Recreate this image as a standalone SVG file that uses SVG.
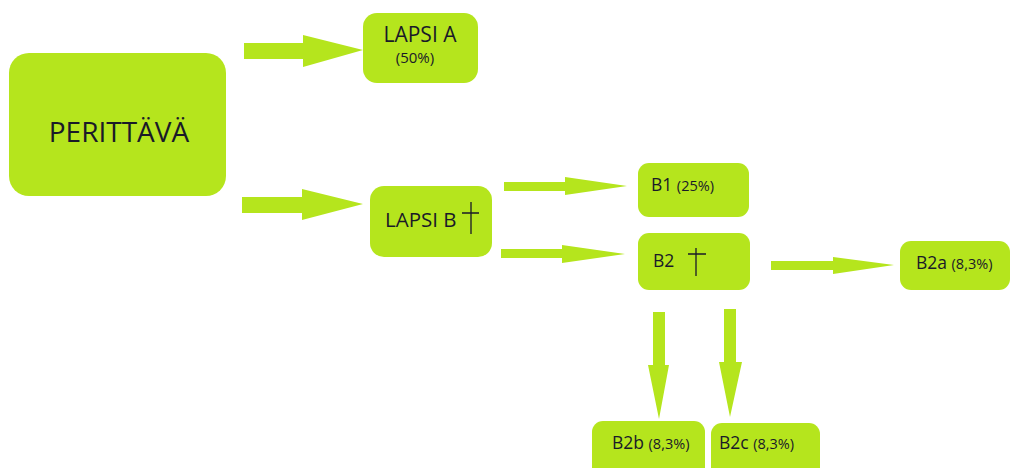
<svg xmlns="http://www.w3.org/2000/svg" width="1010" height="468" viewBox="0 0 1010 468">
<style>
.box{fill:#b5e51d}
.arr{fill:#b5e51d}
text{font-family:"Open Sans","Liberation Sans",sans-serif;fill:#1a1a28}
.lbl{font-size:17.5px}
.pct{font-size:14.5px}
.cross{stroke:#1a1a28;stroke-width:1.3;fill:none}
</style>
<rect width="1010" height="468" fill="#ffffff"/>
<g id="connectors">
<polygon class="arr" points="244,43 303,43 303,35 363,50 303,67 303,59 244,59"/>
<polygon class="arr" points="242,197 302,197 302,189 363,204 302,220 302,213 242,213"/>
<polygon class="arr" points="504,182 565,182 565,177 627,186 565,195 565,191 504,191"/>
<polygon class="arr" points="501,249 562,249 562,245 625,254 562,263 562,258 501,258"/>
<polygon class="arr" points="771,261 833,261 833,257 894,265 833,274 833,270 771,270"/>
<polygon class="arr" points="653,312 665,312 665,365 669,365 659,419 648,365 653,365"/>
<polygon class="arr" points="724,309 736,309 736,362 742,362 730,417 719,362 724,362"/>
</g>
<g id="perittava">
<rect class="box" x="9" y="53" width="217" height="143" rx="20"/>
<text x="119" y="142" font-size="28" text-anchor="middle">PERITTÄVÄ</text>
</g>
<g id="lapsi-a">
<rect class="box" x="363" y="13" width="115" height="70" rx="14"/>
<text x="420" y="42" font-size="21" text-anchor="middle">LAPSI A</text>
<text x="415" y="63" font-size="15" text-anchor="middle">(50%)</text>
</g>
<g id="lapsi-b">
<rect class="box" x="370" y="186" width="122" height="71" rx="14"/>
<text x="385" y="227" font-size="20.5">LAPSI B</text>
<path class="cross" d="M471,202V234M462,213H479"/>
</g>
<g id="b1">
<rect class="box" x="638" y="163" width="111" height="54" rx="11"/>
<text x="651" y="191" class="lbl">B1 <tspan class="pct">(25%)</tspan></text>
</g>
<g id="b2">
<rect class="box" x="638" y="233" width="112" height="57" rx="11"/>
<text x="653" y="267" class="lbl">B2</text>
<path class="cross" d="M696,248V276M688,254H706"/>
</g>
<g id="b2a">
<rect class="box" x="900" y="241" width="110" height="49" rx="11"/>
<text x="916" y="269" class="lbl">B2a <tspan class="pct">(8,3%)</tspan></text>
</g>
<g id="b2b">
<rect class="box" x="592" y="421" width="113" height="60" rx="11"/>
<text x="612" y="449" class="lbl">B2b <tspan class="pct">(8,3%)</tspan></text>
</g>
<g id="b2c">
<rect class="box" x="711" y="423" width="109" height="60" rx="11"/>
<text x="719" y="449" class="lbl">B2c <tspan class="pct">(8,3%)</tspan></text>
</g>
</svg>
